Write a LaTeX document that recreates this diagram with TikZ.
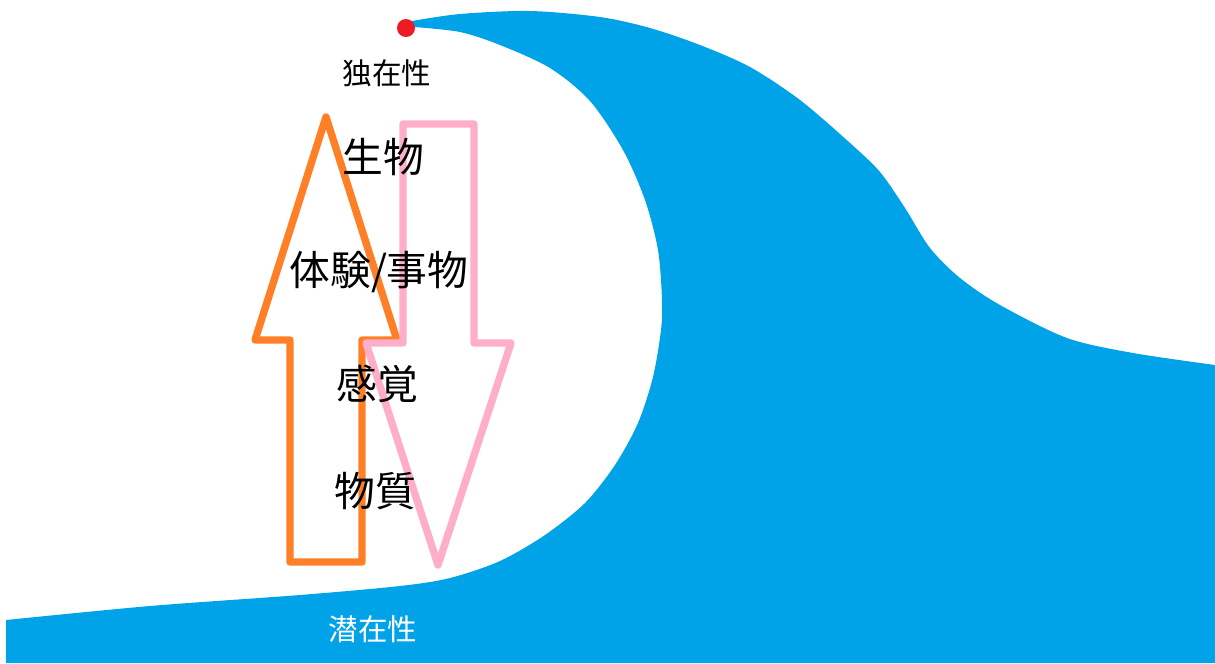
\documentclass[tikz,border=0pt]{standalone}
\usepackage{fontspec}
\newfontfamily\jp{Noto Sans CJK JP}
\definecolor{waveblue}{HTML}{00A2E8}
\definecolor{uporange}{HTML}{FF7F27}
\definecolor{downpink}{HTML}{FFAEC9}
\definecolor{tipred}{HTML}{ED1C24}
\begin{document}
\begin{tikzpicture}[x=0.01cm,y=-0.01cm,line join=round,
	small/.style={font=\jp\fontsize{8.4}{9}\selectfont,inner sep=0pt},
	big/.style={font=\jp\fontsize{11.6}{12}\selectfont,inner sep=0pt},
	arrowline/.style={line width=2.1pt}]
	\useasboundingbox (0,0) rectangle (1215,663);
	% the wave
	\fill[waveblue] plot[smooth] coordinates {(412,21) (460,14) (530,11) (600,17)
		(650,28) (700,45) (750,67) (800,100) (850,143) (880,172) (905,208)
		(930,248) (960,278) (1000,305) (1067,338) (1133,353) (1215,365)}%
	-- (1215,663) -- (6,663) -- plot[smooth] coordinates {(6,620) (150,606)
		(300,595) (400,586) (450,578) (500,561) (545,535) (585,503) (615,465)
		(638,423) (653,377) (661,330) (662,300) (658,250) (645,200) (623,150)
		(590,101) (550,68) (500,45) (460,32) (414,27)} -- cycle;
	\fill[tipred] (406,28) circle (9);
	% up and down arrows
	\draw[arrowline,uporange] (326,117) -- (397,340) -- (362,340) -- (362,562)%
	-- (290,562) -- (290,340) -- (255,340) -- cycle;
	\draw[arrowline,downpink] (403,124) -- (474,124) -- (474,343) -- (511,343)%
	-- (438,565) -- (366,343) -- (403,343) -- cycle;
	% labels
	\node[small] (dokuzai) at (387,73) {独在性};
	\node[big] (seibutsu) at (383,157) {生物};
	\node[big] (taiken) at (379,272) {体験/事物};
	\node[big] (kankaku) at (377,384) {感覚};
	\node[big] (busshitsu) at (375,491) {物質};
	\node[small,white] (senzai) at (373,629) {潜在性};
\end{tikzpicture}
\end{document}
